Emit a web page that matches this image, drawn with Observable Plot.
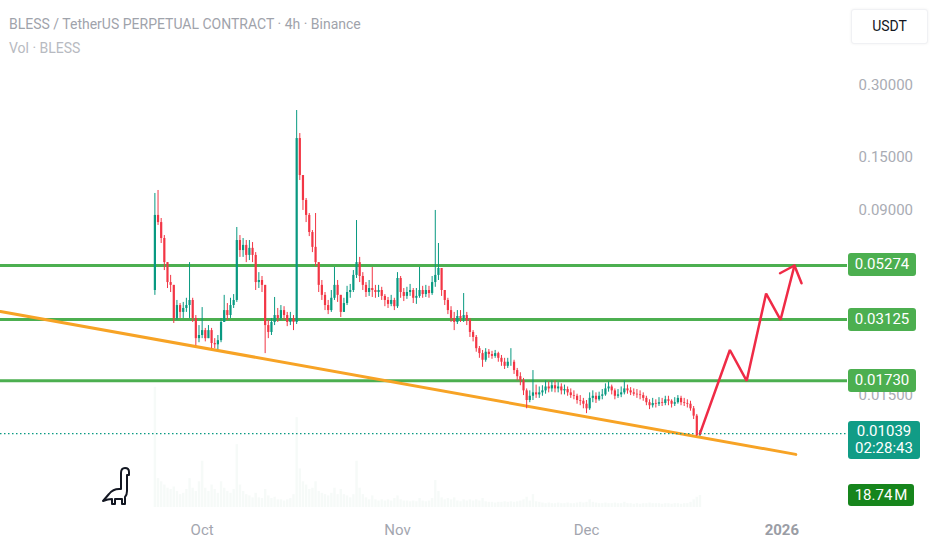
<!DOCTYPE html>
<html><head><meta charset="utf-8">
<script src="https://cdn.jsdelivr.net/npm/d3@7"></script>
<script src="https://cdn.jsdelivr.net/npm/@observablehq/plot@0.6"></script>
<style>
body{margin:0;background:#fff;font-family:Roboto,"Noto Sans",sans-serif;}
#wrap{position:relative;width:932px;height:550px;overflow:hidden;background:#fff;}
#wrap svg{position:absolute;left:0;top:0;}
.ttl{position:absolute;left:9px;font-size:14px;white-space:nowrap;line-height:18px;}
.badge{position:absolute;color:#fff;font-size:15px;text-align:center;border-radius:3px;}
</style></head><body><div id="wrap"></div>
<script>
// ---- data ----
const title = "BLESS / TetherUS PERPETUAL CONTRACT · 4h · Binance";
const subtitle = "Vol · BLESS";
const currency = "USDT";
const firstOpen = 0.0414;
const closes = [
0.0855,0.0798,0.0684,0.0542,0.0447,0.0435,0.0316,0.0358,0.0335,0.0348,
0.0358,0.0376,0.0316,0.0260,0.0268,0.0281,0.0260,0.0281,0.0248,0.0245,
0.0255,0.0304,0.0341,0.0325,0.0358,0.0376,0.0671,0.0609,0.0640,0.0581,
0.0622,0.0581,0.0447,0.0456,0.0435,0.0295,0.0276,0.0304,0.0325,0.0316,
0.0341,0.0325,0.0304,0.0316,0.0304,0.1797,0.1257,0.0988,0.0855,0.0725,
0.0628,0.0542,0.0435,0.0395,0.0358,0.0341,0.0384,0.0435,0.0395,0.0335,
0.0365,0.0406,0.0414,0.0479,0.0542,0.0474,0.0435,0.0406,0.0422,0.0414,
0.0406,0.0414,0.0391,0.0376,0.0362,0.0376,0.0354,0.0465,0.0406,0.0391,
0.0406,0.0414,0.0384,0.0391,0.0414,0.0398,0.0414,0.0402,0.0447,0.0479,
0.0512,0.0414,0.0376,0.0341,0.0316,0.0304,0.0322,0.0316,0.0325,0.0310,
0.0276,0.0263,0.0236,0.0225,0.0211,0.0228,0.0223,0.0219,0.0225,0.0215,
0.0207,0.0199,0.0207,0.0207,0.0191,0.0180,0.0173,0.0157,0.0143,0.0149,
0.0154,0.0151,0.0154,0.0157,0.0163,0.0160,0.0165,0.0160,0.0163,0.0157,
0.0159,0.0154,0.0150,0.0149,0.0143,0.0142,0.0138,0.0132,0.0146,0.0149,
0.0144,0.0149,0.0151,0.0160,0.0163,0.0157,0.0149,0.0151,0.0154,0.0160,
0.0157,0.0154,0.0152,0.0151,0.0150,0.0146,0.0140,0.0136,0.0139,0.0138,
0.0140,0.0139,0.0144,0.0142,0.0138,0.0140,0.0146,0.0140,0.0139,0.0138,
0.0132,0.0123,0.0102,0.01039];
const highs = [
0.1057,0.1088,0.0830,0.0704,0.0542,0.0479,0.0435,0.0376,0.0365,0.0369,
0.0384,0.0542,0.0384,0.0325,0.0295,0.0351,0.0287,0.0295,0.0287,0.0260,
0.0268,0.0316,0.0395,0.0365,0.0384,0.0398,0.0761,0.0704,0.0684,0.0671,
0.0671,0.0658,0.0597,0.0492,0.0474,0.0435,0.0310,0.0316,0.0387,0.0348,
0.0358,0.0354,0.0335,0.0335,0.0325,0.2356,0.1886,0.1257,0.1007,0.0871,
0.0739,0.0871,0.0542,0.0456,0.0406,0.0376,0.0414,0.0517,0.0456,0.0395,
0.0384,0.0431,0.0439,0.0502,0.0814,0.0570,0.0492,0.0447,0.0456,0.0517,
0.0435,0.0435,0.0427,0.0398,0.0387,0.0395,0.0384,0.0492,0.0474,0.0422,
0.0427,0.0439,0.0422,0.0422,0.0517,0.0431,0.0435,0.0431,0.0474,0.0897,
0.0652,0.0512,0.0414,0.0384,0.0354,0.0335,0.0341,0.0341,0.0402,0.0335,
0.0316,0.0281,0.0268,0.0241,0.0232,0.0236,0.0234,0.0230,0.0232,0.0228,
0.0221,0.0215,0.0215,0.0236,0.0211,0.0195,0.0187,0.0177,0.0160,0.0157,
0.0191,0.0166,0.0163,0.0165,0.0173,0.0171,0.0173,0.0173,0.0170,0.0168,
0.0166,0.0163,0.0160,0.0157,0.0152,0.0150,0.0146,0.0143,0.0154,0.0157,
0.0154,0.0155,0.0159,0.0168,0.0171,0.0166,0.0160,0.0159,0.0163,0.0173,
0.0166,0.0162,0.0160,0.0159,0.0157,0.0154,0.0149,0.0144,0.0146,0.0144,
0.0147,0.0146,0.0149,0.0149,0.0144,0.0147,0.0150,0.0149,0.0146,0.0144,
0.0142,0.0135,0.0125,0.0107];
const lows = [
0.0395,0.0776,0.0652,0.0502,0.0422,0.0406,0.0301,0.0310,0.0316,0.0316,
0.0335,0.0316,0.0304,0.0243,0.0250,0.0260,0.0252,0.0260,0.0236,0.0236,
0.0234,0.0250,0.0304,0.0310,0.0316,0.0348,0.0369,0.0570,0.0570,0.0542,
0.0553,0.0542,0.0414,0.0422,0.0406,0.0225,0.0260,0.0268,0.0295,0.0304,
0.0310,0.0310,0.0292,0.0295,0.0281,0.0298,0.1198,0.0897,0.0798,0.0697,
0.0597,0.0522,0.0406,0.0376,0.0341,0.0328,0.0335,0.0376,0.0369,0.0319,
0.0335,0.0358,0.0384,0.0406,0.0465,0.0447,0.0414,0.0387,0.0391,0.0387,
0.0384,0.0387,0.0376,0.0354,0.0348,0.0354,0.0341,0.0348,0.0384,0.0372,
0.0380,0.0391,0.0365,0.0362,0.0384,0.0384,0.0387,0.0384,0.0395,0.0427,
0.0456,0.0391,0.0358,0.0328,0.0304,0.0281,0.0298,0.0304,0.0304,0.0295,
0.0263,0.0252,0.0228,0.0215,0.0197,0.0207,0.0215,0.0213,0.0215,0.0207,
0.0199,0.0193,0.0195,0.0199,0.0184,0.0173,0.0165,0.0150,0.0132,0.0140,
0.0143,0.0146,0.0146,0.0149,0.0152,0.0154,0.0155,0.0154,0.0154,0.0151,
0.0151,0.0149,0.0146,0.0144,0.0138,0.0136,0.0132,0.0126,0.0130,0.0140,
0.0139,0.0142,0.0144,0.0149,0.0155,0.0151,0.0144,0.0146,0.0147,0.0151,
0.0152,0.0150,0.0149,0.0146,0.0144,0.0142,0.0136,0.0131,0.0133,0.0133,
0.0135,0.0135,0.0136,0.0136,0.0133,0.0135,0.0138,0.0136,0.0135,0.0133,
0.0129,0.0119,0.0101,0.0101];
const volumes = [
187,45,40,35,30,28,32,25,20,22, 28,45,30,25,40,72,30,25,35,28,
22,40,30,25,22,28,98,35,25,20, 18,15,22,15,14,28,18,14,16,12,
12,10,12,14,20,140,60,40,35,28, 30,40,25,22,20,18,22,30,20,28,
20,18,15,20,72,30,20,15,12,18, 12,10,12,10,12,10,14,18,12,10,
10,9,10,9,14,10,9,10,14,42, 25,15,12,14,12,15,10,9,12,10,
12,10,12,10,14,9,8,8,7,8, 8,9,8,9,8,9,10,12,16,10,
20,9,8,7,6,7,6,6,7,6, 6,7,6,6,7,8,7,8,12,8,
7,6,6,7,6,6,7,6,6,8, 6,6,5,6,5,6,6,7,6,6,
6,5,6,6,5,6,6,5,6,6, 8,12,16,18.74];
const firstCandle = "2025-09-23T12:00Z";
const candleHours = 12;
const levels = [0.05274, 0.03125, 0.01730];
const lastPrice = 0.01039;
const countdown = "02:28:43";
const lastVolumeLabel = "18.74\u202FM";
const lastVolume = 18.74;
const trendDates = ["2025-08-30T00:00Z", "2026-01-03T05:00Z"];
const trendPrices = [0.0338, 0.0085];
const arrowDates = ["2025-12-19T00:00Z","2025-12-23T18:00Z","2025-12-26T10:00Z","2025-12-29T12:00Z","2025-12-31T19:00Z","2026-01-03T00:00Z"];
const arrowPrices = [0.01039, 0.0233, 0.0173, 0.0402, 0.0312, 0.0527];
const headDates = ["2025-12-31T17:00Z","2026-01-03T00:00Z","2026-01-04T03:00Z"];
const headPrices = [0.0489, 0.0527, 0.0444];
const yTicks = [0.3, 0.15, 0.09, 0.015];
const monthTicks = ["2025-10-01","2025-11-01","2025-12-01"];
const yearTicks = ["2026-01-01"];
const xDomain = ["2025-08-30T00:00Z", "2026-01-11T10:00Z"];
const yDomain = [0.004942, 0.682];
const volDomain = [0, 190];

// ---- build ----
const UP = "#089981", DOWN = "#f23645";
const t0 = new Date(firstCandle).getTime();
const candles = closes.map((c, i) => ({
  date: new Date(t0 + i * candleHours * 3600e3),
  open: i ? closes[i - 1] : firstOpen, close: c, high: highs[i], low: lows[i], vol: volumes[i]
}));
const col = d => d.close >= d.open ? UP : DOWN;
const trend = trendDates.map((d, i) => ({date: new Date(d), price: trendPrices[i]}));
const arrow = arrowDates.map((d, i) => ({date: new Date(d), price: arrowPrices[i]}));
const head = headDates.map((d, i) => ({date: new Date(d), price: headPrices[i]}));
const xd = xDomain.map(d => new Date(d));
const fmt = d3.format(".5f");

const common = {width: 932, height: 550, marginLeft: 0, marginRight: 85, marginTop: 0, marginBottom: 40};

const volPlot = Plot.plot({
  ...common,
  style: {background: "transparent"},
  x: {type: "utc", domain: xd, axis: null},
  y: {domain: volDomain, range: [507, 385], axis: null},
  marks: [
    Plot.ruleX(candles, {x: "date", y1: 0, y2: "vol", stroke: "#7fb89a", strokeWidth: 2.4, strokeOpacity: 0.07})
  ]
});

const pricePlot = Plot.plot({
  ...common,
  style: {background: "transparent", fontFamily: "Roboto, sans-serif", fontSize: "15px", overflow: "visible"},
  x: {type: "utc", domain: xd, axis: null},
  y: {type: "log", domain: yDomain, axis: null},
  marks: [
    Plot.ruleY(levels, {stroke: "#4caf50", strokeWidth: 3}),
    Plot.line(trend, {x: "date", y: "price", stroke: "#f7a325", strokeWidth: 3}),
    Plot.ruleY([lastPrice], {stroke: UP, strokeWidth: 1.3, strokeDasharray: "1.5,2.5"}),
    Plot.ruleX(candles, {x: "date", y1: d => Math.min(d.low, d.open, d.close), y2: d => Math.max(d.high, d.open, d.close), stroke: col, strokeWidth: 1}),
    Plot.ruleX(candles, {x: "date", y1: "open", y2: "close", stroke: col, strokeWidth: 2.2}),
    Plot.line(arrow, {x: "date", y: "price", stroke: "#ef2b46", strokeWidth: 2.5, strokeLinejoin: "miter"}),
    Plot.line(head, {x: "date", y: "price", stroke: "#ef2b46", strokeWidth: 2.5, strokeLinejoin: "miter"}),
    Plot.text(yTicks, {y: d => d, frameAnchor: "right", dx: 11, textAnchor: "start", text: d => fmt(d), fill: "#a9acb4", fontSize: 15}),
    Plot.axisX(monthTicks.map(d => new Date(d)), {anchor: "bottom", tickSize: 0, tickPadding: 14, tickFormat: d3.utcFormat("%b"), fill: "#a3a6af", fontSize: 15}),
    Plot.axisX(yearTicks.map(d => new Date(d)), {anchor: "bottom", tickSize: 0, tickPadding: 14, tickFormat: d3.utcFormat("%Y"), fill: "#9a9da5", fontSize: 15, fontWeight: "bold"})
  ]
});

const wrap = document.getElementById("wrap");
wrap.appendChild(volPlot);
wrap.appendChild(pricePlot);

function div(html, css, cls) {
  const e = document.createElement("div");
  if (cls) e.className = cls;
  e.innerHTML = html;
  Object.assign(e.style, css);
  wrap.appendChild(e);
  return e;
}
div(title, {top: "15px", color: "#9fa3ab"}, "ttl");
div(subtitle, {top: "39px", color: "#b7bac1"}, "ttl");
div(currency, {position: "absolute", left: "851px", top: "9px", width: "75px", height: "33px", lineHeight: "33px",
  textAlign: "center", fontSize: "14px", color: "#131722", background: "#fff", border: "1px solid #f0f1f4",
  boxShadow: "0 0 3px rgba(0,0,0,0.06)", borderRadius: "3px"});

const ys = pricePlot.scale("y");
const vs = volPlot.scale("y");
for (const v of levels) {
  const y = ys.apply(v);
  div(fmt(v), {left: "848px", top: (y - 11.5) + "px", width: "68px", height: "23px", lineHeight: "23px", background: "#4caf50"}, "badge");
}
{
  const y = ys.apply(lastPrice);
  div(fmt(lastPrice) + "<br>" + countdown, {left: "848px", top: (y - 12) + "px", width: "72px", height: "38px",
    lineHeight: "17px", paddingTop: "2px", boxSizing: "border-box", background: "#119c86"}, "badge");
}
{
  const y = vs.apply(lastVolume);
  div(lastVolumeLabel, {left: "848px", top: (y - 11) + "px", width: "66px", height: "22px", lineHeight: "22px", background: "#16851c"}, "badge");
}
// TradingView logo
const dino = document.createElementNS("http://www.w3.org/2000/svg", "svg");
dino.setAttribute("width", "32"); dino.setAttribute("height", "42");
dino.style.left = "101px"; dino.style.top = "466px";
dino.innerHTML = '<path d="M2 35 L8 28 Q12 23 18 23 L20 23 L20 7 Q20 2 24 2 Q28 2 28 6 L28 9 L26 9 L26 25 Q26 29 24 31 L24 38 L21 38 L21 33 L14 33 L14 38 L11 38 L11 33 Q7 33 2 35 Z" fill="none" stroke="#131722" stroke-width="2" stroke-linejoin="round"/>';
wrap.appendChild(dino);
</script></body></html>
